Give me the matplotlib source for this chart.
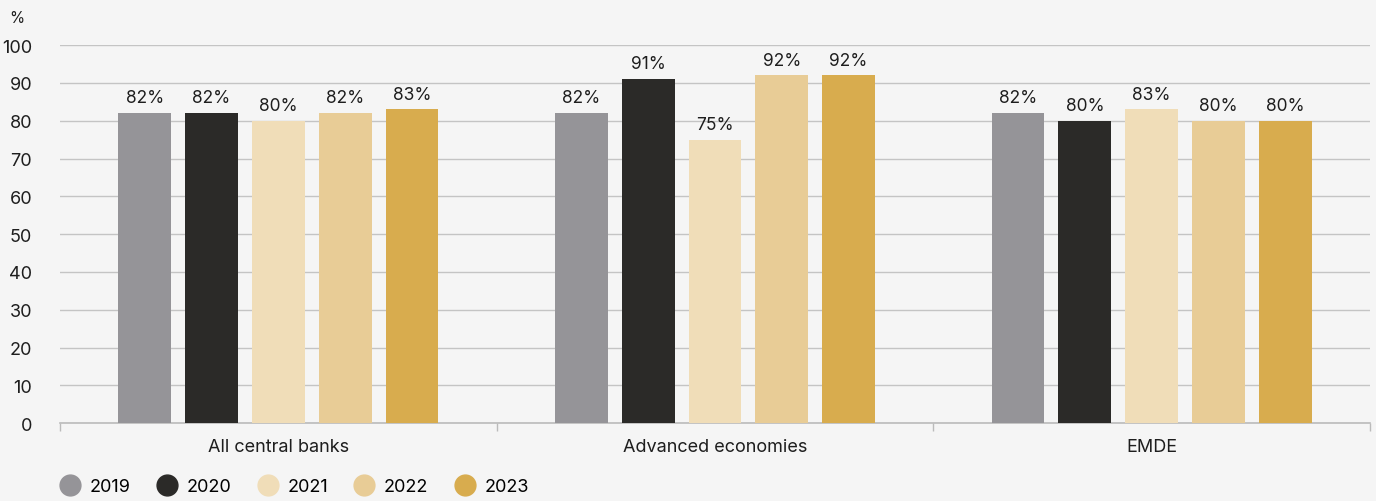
import matplotlib
matplotlib.use("Agg")
import matplotlib.pyplot as plt
from matplotlib.lines import Line2D
import numpy as np

plt.rcParams['font.family'] = ['Inter', 'DejaVu Sans']

categories = ["All central banks", "Advanced economies", "EMDE"]
years = ["2019", "2020", "2021", "2022", "2023"]
values = {
    "2019": [82, 82, 82],
    "2020": [82, 91, 80],
    "2021": [80, 75, 83],
    "2022": [82, 92, 80],
    "2023": [83, 92, 80],
}
colors = ["#959498", "#2b2a28", "#f0ddb8", "#e8cc96", "#d8ac4e"]
yticks = [0, 10, 20, 30, 40, 50, 60, 70, 80, 90, 100]

bg = "#f5f5f5"
fig = plt.figure(figsize=(13.76, 5.02), dpi=100, facecolor=bg)
ax = fig.add_axes([0.0436, 0.155, 0.952, 0.753], facecolor=bg)

x = np.arange(len(categories))
width = 0.121
step = 0.153
for i, (yr, col) in enumerate(zip(years, colors)):
    offs = (i - 2) * step
    bars = ax.bar(x + offs, values[yr], width, color=col, zorder=3)
    for b, v in zip(bars, values[yr]):
        ax.text(b.get_x() + b.get_width() / 2, v + 1.8, f"{v}%",
                ha="center", va="bottom", fontsize=12.5, color="#1e1e1e")

ax.set_xlim(-0.5, len(categories) - 0.5)
ax.set_ylim(0, 100)
ax.set_yticks(yticks)
ax.yaxis.grid(True, color="#c4c4c4", linewidth=1, zorder=0)
ax.tick_params(axis="y", length=0, labelsize=13, pad=20, labelcolor="#1e1e1e")

# category separators as ticks along the baseline
ax.set_xticks(np.arange(-0.5, len(categories), 1.0))
ax.set_xticklabels([])
ax.set_xticks(x, minor=True)
ax.set_xticklabels(categories, minor=True)
ax.tick_params(axis="x", which="major", length=6, color="#bbbbbb", width=1)
ax.tick_params(axis="x", which="minor", length=0, labelsize=13, pad=11,
               labelcolor="#1e1e1e")

for s in ["top", "right", "left"]:
    ax.spines[s].set_visible(False)
ax.spines["bottom"].set_color("#bbbbbb")
ax.spines["bottom"].set_linewidth(1.2)

fig.text(0.007, 0.963, "%", fontsize=11, color="#1e1e1e", va="center")

handles = [Line2D([], [], marker="o", linestyle="none", markersize=15,
                  markerfacecolor=c, markeredgecolor=c) for c in colors]
fig.legend(handles, years, loc="center left", bbox_to_anchor=(0.035, 0.028),
           ncol=5, frameon=False, fontsize=13, handletextpad=0.3,
           handlelength=1.6, columnspacing=1.2, borderaxespad=0)

fig.savefig("out.png", dpi=100, facecolor=bg)
